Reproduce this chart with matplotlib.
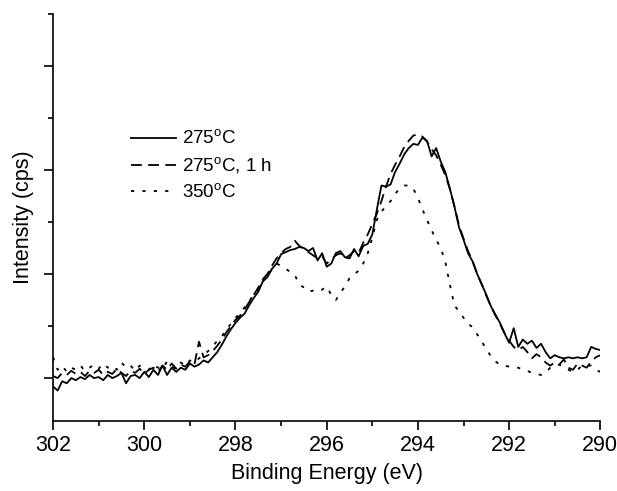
import numpy as np
import matplotlib
matplotlib.use("Agg")
import matplotlib.pyplot as plt
from matplotlib.ticker import MultipleLocator, NullFormatter

# binding energy grid (eV), 302.0 -> 290.0 in 0.1 eV steps
energy = np.round(np.arange(302.0, 289.95, -0.1), 1)

# intensity, arbitrary units (one major y tick = 1)
solid_275 = [
    -0.08, -0.12, -0.03, -0.05, 0.00, -0.02, 0.01, -0.01, 0.03, 0.00,
    0.01, -0.02, 0.03, 0.00, 0.02, 0.05, -0.05, 0.02, 0.03, 0.00,
    0.06, 0.01, 0.08, 0.03, 0.12, 0.03, 0.10, 0.06, 0.10, 0.08,
    0.14, 0.11, 0.13, 0.17, 0.15, 0.20, 0.25, 0.32, 0.40, 0.47,
    0.53, 0.58, 0.62, 0.70, 0.77, 0.83, 0.93, 0.97, 1.05, 1.10,
    1.19, 1.21, 1.23, 1.24, 1.26, 1.25, 1.22, 1.25, 1.13, 1.20,
    1.07, 1.10, 1.20, 1.22, 1.16, 1.15, 1.24, 1.17, 1.27, 1.29,
    1.38, 1.62, 1.85, 1.84, 1.86, 1.98, 2.06, 2.15, 2.21, 2.25,
    2.24, 2.31, 2.28, 2.13, 2.21, 2.08, 1.98, 1.82, 1.65, 1.45,
    1.33, 1.20, 1.12, 1.00, 0.90, 0.80, 0.69, 0.61, 0.53, 0.43,
    0.34, 0.48, 0.30, 0.37, 0.33, 0.36, 0.29, 0.33, 0.25, 0.19,
    0.22, 0.20, 0.19, 0.20, 0.19, 0.20, 0.19, 0.20, 0.30, 0.28,
    0.27,
]

dashed_275_1h = [
    0.02, 0.00, 0.05, 0.03, 0.07, 0.04, 0.06, 0.02, 0.07, 0.05,
    0.08, 0.03, 0.06, 0.04, 0.09, 0.05, 0.02, 0.07, 0.05, 0.09,
    0.04, 0.08, 0.10, 0.06, 0.12, 0.08, 0.14, 0.09, 0.13, 0.11,
    0.16, 0.13, 0.35, 0.20, 0.22, 0.26, 0.31, 0.37, 0.44, 0.50,
    0.56, 0.60, 0.66, 0.73, 0.80, 0.87, 0.95, 1.00, 1.08, 1.15,
    1.20, 1.24, 1.26, 1.32, 1.27, 1.24, 1.21, 1.18, 1.15, 1.17,
    1.10, 1.14, 1.18, 1.20, 1.15, 1.18, 1.22, 1.20, 1.30, 1.38,
    1.48, 1.58, 1.70, 1.84, 1.96, 2.05, 2.13, 2.22, 2.28, 2.33,
    2.34, 2.32, 2.27, 2.20, 2.14, 2.05, 1.95, 1.82, 1.65, 1.47,
    1.34, 1.22, 1.12, 1.00, 0.90, 0.79, 0.69, 0.60, 0.52, 0.43,
    0.36, 0.30, 0.27, 0.30, 0.25, 0.19, 0.23, 0.20, 0.15, 0.12,
    0.15, 0.13, 0.18, 0.10, 0.08, 0.14, 0.12, 0.10, 0.16, 0.20,
    0.22,
]

dotted_350 = [
    0.20, 0.08, 0.12, 0.06, 0.10, 0.08, 0.12, 0.07, 0.10, 0.13,
    0.09, 0.14, 0.10, 0.12, 0.08, 0.15, 0.10, 0.12, 0.07, 0.12,
    0.10, 0.08, 0.13, 0.10, 0.09, 0.16, 0.11, 0.09, 0.15, 0.12,
    0.17, 0.15, 0.19, 0.22, 0.26, 0.30, 0.36, 0.40, 0.47, 0.52,
    0.58, 0.62, 0.68, 0.74, 0.80, 0.86, 0.93, 0.98, 1.05, 1.10,
    1.08, 1.05, 1.02, 0.99, 0.90, 0.87, 0.83, 0.84, 0.83, 0.85,
    0.88, 0.80, 0.75, 0.82, 0.88, 0.96, 1.00, 1.03, 1.10, 1.20,
    1.35, 1.52, 1.60, 1.65, 1.70, 1.77, 1.82, 1.85, 1.85, 1.82,
    1.73, 1.62, 1.52, 1.42, 1.33, 1.25, 1.12, 0.90, 0.70, 0.64,
    0.58, 0.52, 0.49, 0.42, 0.35, 0.28, 0.21, 0.16, 0.13, 0.12,
    0.11, 0.10, 0.10, 0.08, 0.07, 0.05, 0.04, 0.03, 0.05, 0.10,
    0.12, 0.13, 0.10, 0.08, 0.06, 0.08, 0.12, 0.12, 0.12, 0.08,
    0.06,
]

labels = ["275$^\\mathregular{o}$C", "275$^\\mathregular{o}$C, 1 h", "350$^\\mathregular{o}$C"]

plt.rcParams["font.family"] = ["Liberation Sans", "DejaVu Sans"]
plt.rcParams["mathtext.fontset"] = "custom"
plt.rcParams["mathtext.rm"] = "Liberation Sans"

fig = plt.figure(figsize=(6.17, 4.91), dpi=100)
ax = fig.add_axes([0.086, 0.143, 0.887, 0.829])

lw = 1.3
ax.plot(energy, solid_275, color="black", lw=lw, label=labels[0])
ax.plot(energy, dashed_275_1h, color="black", lw=lw, linestyle=(0, (6, 3.5)), label=labels[1])
ax.plot(energy, dotted_350, color="black", lw=lw, linestyle=(0, (1.8, 4.5)), label=labels[2])

ax.set_xlim(302, 290)
ax.set_ylim(-0.41, 3.5)

ax.spines["top"].set_visible(False)
ax.spines["right"].set_visible(False)
ax.spines["left"].set_linewidth(1.2)
ax.spines["bottom"].set_linewidth(1.2)

ax.xaxis.set_major_locator(MultipleLocator(2))
ax.xaxis.set_minor_locator(MultipleLocator(1))
ax.yaxis.set_major_locator(MultipleLocator(1))
ax.yaxis.set_minor_locator(MultipleLocator(0.5))
ax.yaxis.set_major_formatter(NullFormatter())
ax.tick_params(which="major", direction="out", length=6.5, width=1.2, labelsize=15.5)
ax.tick_params(which="minor", direction="out", length=3.5, width=1.2)

ax.set_xlabel("Binding Energy (eV)", fontsize=15.5, labelpad=5)
ax.set_ylabel("Intensity (cps)", fontsize=15.5, labelpad=4)

ax.legend(loc="upper left", bbox_to_anchor=(0.112, 0.757), frameon=False,
          fontsize=13.5, handlelength=2.4, handletextpad=0.3, labelspacing=0.38)

fig.savefig("out.png", dpi=100)
